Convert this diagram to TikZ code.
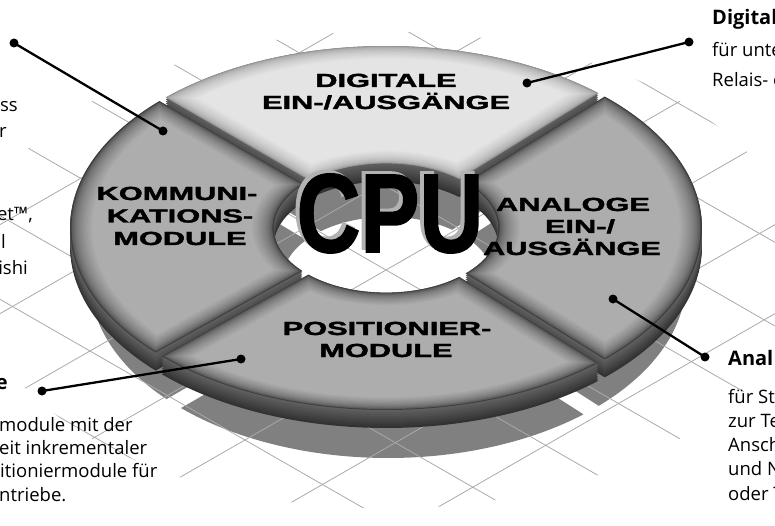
\documentclass[tikz,border=0pt]{standalone}
\usepackage{fontspec}
\setmainfont{Open Sans}
\newfontfamily\heavy{Liberation Sans}[FakeBold=1.5]
\definecolor{faceL}{RGB}{228,228,228}
\definecolor{edgeL}{RGB}{150,150,150}
\definecolor{faceD}{RGB}{173,173,173}
\definecolor{edgeD}{RGB}{62,62,62}
\definecolor{sideTop}{RGB}{100,100,100}
\definecolor{sideBot}{RGB}{50,50,50}
\definecolor{shadowc}{RGB}{128,128,128}
\definecolor{gridc}{RGB}{170,170,170}
\def\pcRi{0.355}
\newcommand\mkpiece[4]{%
  \pgfmathsetmacro\pcRo{1-#3}%
  \pgfmathsetmacro\pcRn{\pcRi+#3}%
  \pgfmathsetmacro\pcAo{#1+asin((#4+#3)/\pcRo)}%
  \pgfmathsetmacro\pcBo{#2-asin((#4+#3)/\pcRo)}%
  \pgfmathsetmacro\pcAi{#1+asin((#4+#3)/\pcRn)}%
  \pgfmathsetmacro\pcBi{#2-asin((#4+#3)/\pcRn)}%
}
\def\pcpath{(\pcAo:\pcRo) arc[start angle=\pcAo,end angle=\pcBo,radius=\pcRo] -- (\pcBi:\pcRn) arc[start angle=\pcBi,end angle=\pcAi,radius=\pcRn] -- cycle}
% #1 phi1, #2 phi2, #3 face, #4 edge
\newcommand\drawpiece[4]{%
  \foreach \k in {0,...,9}{%
    \pgfmathsetmacro\hh{18*(1-\k/9)}%
    \pgfmathtruncatemacro\mm{100*\k/9}%
    \mkpiece{#1}{#2}{0}{0.014}%
    \fill[sideTop!\mm!sideBot, yshift=-\hh pt] \pcpath;
  }%
  \foreach \k in {0,...,14}{%
    \pgfmathsetmacro\dd{0.07*\k/14}%
    \pgfmathtruncatemacro\mm{100*sqrt(\k/14)}%
    \mkpiece{#1}{#2}{\dd}{0.014}%
    \fill[#3!\mm!#4] \pcpath;
  }%
}
\tikzset{
  gridline/.style={gridc, line width=0.8pt},
  dot/.style={circle, fill=black, inner sep=0pt, minimum size=9pt},
  callout/.style={black, line width=2.3pt},
  seglabel/.style={font=\heavy\bfseries\fontsize{19}{22}\selectfont, xscale=1.62, anchor=base, inner sep=0pt},
  body/.style={font=\fontsize{18.5}{23}\selectfont, inner sep=0pt},
  head/.style={font=\bfseries\fontsize{20}{23}\selectfont, inner sep=0pt}
}
\begin{document}
\begin{tikzpicture}[x=1pt,y=-1pt]
\useasboundingbox (0,0) rectangle (775,526);
\clip (0,0) rectangle (775,526);
\fill[white] (0,0) rectangle (775,526);

% shadow
\begin{scope}[shift={(388,280)}, x={(298pt,0pt)}, y={(0pt,-178pt)}]
  \foreach \a/\b in {225/313, 313/407, 47/136, 136/225}{%
    \mkpiece{\a}{\b}{0}{0.035}%
    \fill[shadowc] \pcpath;
  }
\end{scope}

% ground grid
\begin{scope}[shift={(386,270)}, x={(310pt,0pt)}, y={(0pt,-178pt)}]
  \clip (0,0) circle[radius=1.34];
  \foreach \k in {-6,...,6}{
    \draw[gridline] (-3,{-3+0.47*\k}) -- (3,{3+0.47*\k});
    \draw[gridline] (-3,{3+0.5*\k}) -- (3,{-3+0.5*\k});
  }
\end{scope}

% disk pieces
\begin{scope}[shift={(386,228)}, x={(316pt,0pt)}, y={(0pt,-182pt)}]
  \drawpiece{225}{313}{faceL}{edgeL}
  \drawpiece{136}{225}{faceD}{edgeD}
  \drawpiece{313}{407}{faceD}{edgeD}
  \drawpiece{47}{136}{faceD}{edgeD}
\end{scope}

% segment labels
\node[seglabel] (d1) at (386,87) {DIGITALE};
\node[seglabel] (d2) at (386,109) {EIN-/AUSGÄNGE};
\node[seglabel] (k1) at (177,200) {KOMMUNI-};
\node[seglabel] (k2) at (180,222.5) {KATIONS-};
\node[seglabel] (k3) at (180,245) {MODULE};
\node[seglabel] (a1) at (573,211) {ANALOGE};
\node[seglabel] (a2) at (580,233) {EIN-/};
\node[seglabel] (a3) at (572,255) {AUSGÄNGE};
\node[seglabel] (p1) at (387,335) {POSITIONIER-};
\node[seglabel] (p2) at (386,357) {MODULE};

% CPU
\node[font=\heavy\bfseries\fontsize{112}{112}\selectfont, xscale=0.79, anchor=base, inner sep=0pt, text=black!30] (cpushadow) at (386,249) {CPU};
\node[font=\heavy\bfseries\fontsize{112}{112}\selectfont, xscale=0.79, anchor=base, inner sep=0pt] (cpu) at (390,252) {CPU};

% callouts
\node[dot] (c1a) at (14,43) {};
\node[dot] (c1b) at (163,131) {};
\draw[callout] (c1a.center) -- (c1b.center);
\node[dot] (c2a) at (689,42) {};
\node[dot] (c2b) at (527,83) {};
\draw[callout] (c2a.center) -- (c2b.center);
\node[dot] (c3a) at (613,299) {};
\node[dot] (c3b) at (705,357) {};
\draw[callout] (c3a.center) -- (c3b.center);
\node[dot] (c4a) at (42,391) {};
\node[dot] (c4b) at (241,359) {};
\draw[callout] (c4a.center) -- (c4b.center);

% left texts (cropped)
\node[body, anchor=base east] (l1) at (18,112) {ss};
\node[body, anchor=base east] (l2) at (7,138) {r};
\node[body, anchor=base east] (l3) at (33,221) {et™,};
\node[body, anchor=base east] (l4) at (6,248) {l};
\node[body, anchor=base east] (l5) at (28,274) {ishi};
\node[head, anchor=base east] (l6) at (8,389) {e};
\node[body, anchor=base west] (l7) at (-1,431) {module mit der};
\node[body, anchor=base west] (l8) at (-1,454) {eit inkrementaler};
\node[body, anchor=base west] (l9) at (0,477) {itioniermodule für};
\node[body, anchor=base west] (l10) at (-1,501) {ntriebe.};

% right texts (cropped)
\node[head, anchor=base west] (r1) at (712,25) {Digital};
\node[body, anchor=base west] (r2) at (712,57) {für unte};
\node[body, anchor=base west] (r3) at (712,87) {Relais- o};
\node[head, anchor=base west] (r4) at (728,365) {Anal};
\node[body, anchor=base west] (r5) at (728,403) {für St};
\node[body, anchor=base west] (r6) at (728,427) {zur Te};
\node[body, anchor=base west] (r7) at (728,451) {Ansch};
\node[body, anchor=base west] (r8) at (728,475) {und N};
\node[body, anchor=base west] (r9) at (728,500) {oder T};
\end{tikzpicture}
\end{document}
